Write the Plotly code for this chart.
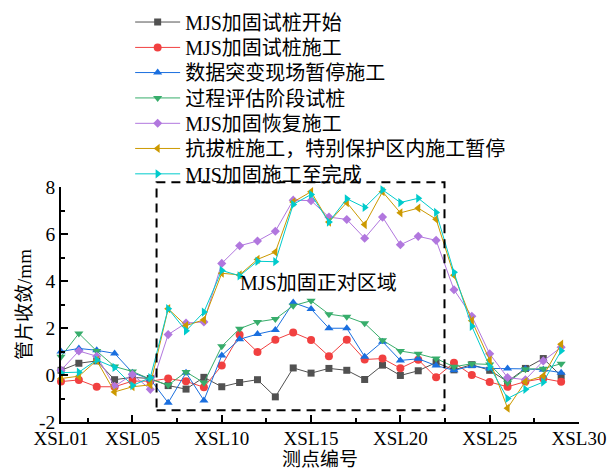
import plotly.graph_objects as go

# Measuring points XSL01 .. XSL29
points = list(range(1, 30))

# Segment convergence (mm) at each stage
s_start = [0.2, 0.5, 0.6, -0.2, -0.1, -0.15, -0.45, -0.6, -0.1, -0.5,
           -0.32, -0.2, -0.93, 0.3, 0.08, 0.28, 0.2, -0.19, 0.42, -0.02,
           0.18, 0.53, 0.22, 0.44, 0.2, -0.28, 0.28, 0.7, -0.04]
s_trial = [-0.28, -0.21, -0.5, -0.5, -0.26, -0.26, -0.15, -0.27, -0.52, 0.4,
           1.71, 0.98, 1.5, 1.81, 1.49, 0.8, 1.5, 0.66, 0.7, 0.29,
           0.65, -0.1, 0.52, 0.0, -0.3, -0.5, -0.28, -0.15, -0.29]
s_jump = [1.0, 1.13, 1.05, 0.92, 0.1, -0.18, -1.18, 0.1, -1.08, 0.83,
          1.52, 1.74, 1.91, 3.08, 2.81, 1.99, 1.99, 0.78, 1.42, 0.62,
          0.69, 0.4, 0.2, 0.38, 0.28, 0.28, 0.26, 0.22, 0.1]
s_assess = [0.78, 1.77, 1.02, 0.36, 0.15, -0.18, -0.43, 0.13, -0.33, 1.22,
            1.97, 2.26, 2.38, 2.95, 3.16, 2.59, 2.48, 2.2, 1.48, 1.02,
            0.9, 0.7, 0.35, 0.48, 0.45, -0.33, 0.25, 0.27, 0.48]
s_resume = [0.2, 1.02, 0.8, -0.48, 0.02, -0.61, 1.72, 2.21, 2.26, 4.75,
            5.5, 5.7, 6.12, 7.44, 7.42, 6.72, 6.62, 5.82, 6.72, 5.54,
            5.9, 5.73, 3.63, 2.5, 0.9, -0.11, -0.2, 0.6, 1.18]
s_uplift = [-0.15, -0.05, 0.62, -0.72, -0.5, -0.42, 2.82, 2.1, 2.35, 4.33,
            4.26, 4.92, 5.23, 7.36, 7.8, 6.51, 7.34, 6.4, 7.8, 6.9,
            7.1, 6.63, 4.25, 2.31, 0.63, -1.41, -0.28, -0.04, 1.31]
s_finish = [0.1, 0.12, 0.64, 0.32, -0.45, -0.11, 2.82, 1.88, 2.68, 4.45,
            4.22, 4.84, 4.82, 7.26, 7.68, 6.51, 7.5, 7.13, 7.88, 7.34,
            7.52, 6.92, 4.37, 2.07, 0.36, -1.0, -0.61, -0.3, 1.03]

series_names = ["MJS加固试桩开始", "MJS加固试桩施工", "数据突变现场暂停施工",
                "过程评估阶段试桩", "MJS加固恢复施工",
                "抗拔桩施工，特别保护区内施工暂停", "MJS加固施工至完成"]
series_values = [s_start, s_trial, s_jump, s_assess, s_resume, s_uplift, s_finish]

x_tickvals = [1, 5, 10, 15, 20, 25, 30]
x_ticktext = ["XSL01", "XSL05", "XSL10", "XSL15", "XSL20", "XSL25", "XSL30"]
y_tickvals = [-2, 0, 2, 4, 6, 8]
y_ticktext = ["-2", "0", "2", "4", "6", "8"]

colors = ["#515151", "#F14040", "#1A6FDF", "#37AD6B", "#B177DE", "#CC9900", "#00CBCC"]
symbols = ["square", "circle", "triangle-up", "triangle-down", "diamond",
           "triangle-left", "triangle-right"]
msizes = [7, 8, 8, 8, 7, 8, 8]

FONT = "Liberation Serif, Noto Sans CJK SC, serif"
X_RANGE = [1, 30]
Y_RANGE = [-2, 8]

# highlighted zone facing the MJS reinforcement (data units)
zone = dict(x0=6.35, x1=22.47, y0=-1.5, y1=8.2)


def to_paper_x(v):
    return (v - X_RANGE[0]) / (X_RANGE[1] - X_RANGE[0])


def to_paper_y(v):
    return (v - Y_RANGE[0]) / (Y_RANGE[1] - Y_RANGE[0])


fig = go.Figure()
legend_keys = ["legend"] + ["legend%d" % k for k in range(2, 8)]
for i, (name, vals) in enumerate(zip(series_names, series_values)):
    fig.add_trace(go.Scatter(
        x=points, y=vals, name=name, mode="lines+markers",
        line=dict(color=colors[i], width=1),
        marker=dict(symbol=symbols[i], size=msizes[i], color=colors[i]),
        legend=legend_keys[i], cliponaxis=False,
    ))

legend_y = [1.702, 1.594, 1.487, 1.379, 1.271, 1.164, 1.056]
layout_legends = {}
for key, ly in zip(legend_keys, legend_y):
    layout_legends[key] = dict(
        x=0.1335, y=ly, xanchor="left", yanchor="middle",
        font=dict(family=FONT, size=20, color="black"),
        bgcolor="rgba(0,0,0,0)", borderwidth=0, itemwidth=45,
    )

fig.update_layout(
    width=607, height=470,
    margin=dict(l=61, r=28, t=187, b=48, autoexpand=False),
    paper_bgcolor="white", plot_bgcolor="white",
    font=dict(family=FONT, size=20, color="black"),
    showlegend=True,
    **layout_legends,
)

fig.update_xaxes(
    range=X_RANGE, showgrid=False, zeroline=False,
    showline=True, linecolor="black", linewidth=1.5,
    ticks="inside", ticklen=7, tickwidth=1.5, tickcolor="black",
    tickmode="array", tickvals=x_tickvals, ticktext=x_ticktext,
    tickfont=dict(family=FONT, size=19), ticklabeloverflow="allow",
    ticklabelstandoff=-2,
    minor=dict(ticks="inside", ticklen=4, tickwidth=1.5, tickcolor="black",
               tick0=2.5, dtick=5),
    title=dict(text="测点编号", font=dict(family=FONT, size=19), standoff=5),
    automargin=False,
)
fig.update_yaxes(
    range=Y_RANGE, showgrid=False, zeroline=False,
    showline=True, linecolor="black", linewidth=1.5,
    ticks="inside", ticklen=7, tickwidth=1.5, tickcolor="black",
    tickmode="array", tickvals=y_tickvals, ticktext=y_ticktext,
    tickfont=dict(family=FONT, size=19.5),
    minor=dict(ticks="inside", ticklen=4, tickwidth=1.5, tickcolor="black",
               tick0=-1, dtick=2),
    title=dict(text="管片收敛/mm", font=dict(family=FONT, size=19), standoff=2),
    automargin=False,
)

fig.add_shape(
    type="rect", xref="paper", yref="paper",
    x0=to_paper_x(zone["x0"]), x1=to_paper_x(zone["x1"]),
    y0=to_paper_y(zone["y0"]), y1=to_paper_y(zone["y1"]),
    line=dict(color="black", width=2, dash="9px,6px"),
    fillcolor="rgba(0,0,0,0)", layer="above",
)

fig.add_annotation(
    x=15.4, y=3.93, xref="x", yref="y", text="MJS加固正对区域",
    showarrow=False, font=dict(family=FONT, size=20, color="black"),
)

fig.write_html("out.html")
